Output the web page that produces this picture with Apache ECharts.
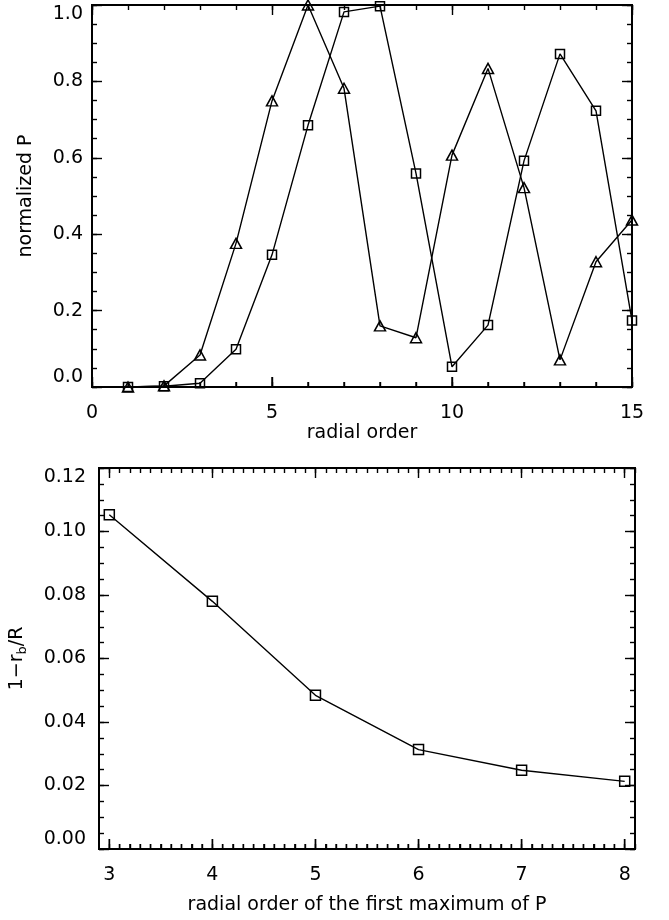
<!DOCTYPE html>
<html>
<head>
<meta charset="utf-8">
<script src="https://cdn.jsdelivr.net/npm/echarts@6/dist/echarts.min.js"></script>
<style>
html,body{margin:0;padding:0;background:#fff;}
#chart{width:669px;height:920px;}
</style>
</head>
<body>
<div id="chart"></div>
<script>
// ---- data ----
const radialOrder = [1, 2, 3, 4, 5, 6, 7, 8, 9, 10, 11, 12, 13, 14, 15];
const triangleP = [0.0, 0.003, 0.084, 0.376, 0.749, 1.0, 0.782, 0.16, 0.129, 0.607, 0.834, 0.522, 0.071, 0.328, 0.437];
const squareP = [0.0, 0.002, 0.01, 0.099, 0.346, 0.685, 0.982, 0.997, 0.559, 0.053, 0.162, 0.592, 0.872, 0.723, 0.174];

const firstMaxOrder = [3, 4, 5, 6, 7, 8];
const depth = [0.1053, 0.078, 0.0484, 0.0313, 0.0248, 0.0213];

const topXTicks = [0, 5, 10, 15];
const topYTicks = [0.0, 0.2, 0.4, 0.6, 0.8, 1.0];
const botXTicks = [3, 4, 5, 6, 7, 8];
const botYTicks = [0.00, 0.02, 0.04, 0.06, 0.08, 0.10, 0.12];

// minor tick positions
function steps(a, b, s) { const r = []; const n = Math.round((b - a) / s); for (let i = 0; i <= n; i++) r.push(+(a + i * s).toFixed(6)); return r; }
const topXMinor = steps(0, 15, 1);
const topYMinor = steps(0, 1, 0.05);
const botXMinor = steps(3, 8.1, 0.1);
const botYMinor = steps(0, 0.12, 0.005);

const FONT = 'DejaVu Sans';
const BLACK = '#000';

function makeAxes(type, grid, min, max, major, minor, opts) {
  const mainPos = type === 'x' ? 'bottom' : 'left';
  const otherPos = type === 'x' ? 'top' : 'right';
  const base = { type: 'value', gridIndex: grid, min: min, max: max, splitLine: { show: false } };
  const line = { show: true, onZero: false, lineStyle: { color: BLACK, width: 2 } };
  const axes = [];
  const label = { show: true, customValues: major, color: BLACK, fontFamily: FONT, fontSize: 19, margin: opts.margin, formatter: opts.fmt };
  if (type === 'y') { label.verticalAlignMinLabel = 'bottom'; label.verticalAlignMaxLabel = 'top'; }
  const tick = (vals, len) => ({ show: true, inside: true, length: len, customValues: vals, lineStyle: { color: BLACK, width: 1.4 } });
  axes.push(Object.assign({}, base, { position: mainPos, axisLine: line, axisTick: tick(minor, 5), axisLabel: { show: false } }));
  axes.push(Object.assign({}, base, { position: otherPos, axisLine: line, axisTick: tick(minor, 5), axisLabel: { show: false } }));
  axes.push(Object.assign({}, base, { position: otherPos, axisLine: line, axisTick: tick(major, 10), axisLabel: { show: false } }));
  const main = Object.assign({}, base, { position: mainPos, axisLine: line, axisTick: tick(major, 10), axisLabel: label });
  if (opts.name) {
    Object.assign(main, {
      name: opts.name, nameLocation: 'middle', nameGap: opts.nameGap, nameRotate: type === 'y' ? 90 : 0,
      nameTextStyle: Object.assign({ color: BLACK, fontFamily: FONT, fontSize: 19 }, opts.nameStyle || {})
    });
  }
  axes.push(main);
  return axes;
}

const xAxes = [].concat(
  makeAxes('x', 0, 0, 15, topXTicks, topXMinor, { margin: 17, fmt: v => String(v) }),
  makeAxes('x', 1, 2.9, 8.1, botXTicks, botXMinor, { margin: 17, fmt: v => String(v), name: 'radial order of the first maximum of P', nameGap: 47 })
);
const yAxes = [].concat(
  makeAxes('y', 0, 0, 1, topYTicks, topYMinor, { margin: 9, fmt: v => v.toFixed(1), name: 'normalized P', nameGap: 56 }),
  makeAxes('y', 1, 0, 0.12, botYTicks, botYMinor, {
    margin: 13, fmt: v => v.toFixed(2), name: '{n|1−r}{s|b}{n|/R}', nameGap: 70,
    nameStyle: { rich: { n: { fontFamily: FONT, fontSize: 19, color: BLACK }, s: { fontFamily: FONT, fontSize: 13, color: BLACK, verticalAlign: 'bottom', padding: [10, 0, 0, 0] } } }
  })
);

// tick marks along the lower frame, placed through the axis scales (value, tick length)
function isMajor(v, majors) { return majors.some(t => Math.abs(t - v) < 1e-6); }
function lowerTicks(vals, majors, xi, yi) {
  return {
    type: 'custom', xAxisIndex: xi, yAxisIndex: yi, silent: true, z: 3, clip: false,
    data: vals.map(v => [v, isMajor(v, majors) ? 10 : 5]),
    renderItem: function (params, api) {
      const p = api.coord([api.value(0), 0]);
      return { type: 'line', shape: { x1: p[0], y1: p[1], x2: p[0], y2: p[1] - api.value(1) },
        style: { stroke: BLACK, lineWidth: 1.4 } };
    }
  };
}

const markerStyle = { color: 'rgba(0,0,0,0)', borderColor: BLACK, borderWidth: 1.5 };

const option = {
  animation: false,
  backgroundColor: '#fff',
  title: [{ text: 'radial order', left: 362, top: 424, textAlign: 'center', padding: 0,
    textStyle: { color: BLACK, fontFamily: FONT, fontSize: 19, fontWeight: 'normal' } }],
  grid: [
    { left: 92, top: 5, width: 540, height: 382 },
    { left: 96, top: 468, width: 539, height: 381 }
  ],
  xAxis: xAxes,
  yAxis: yAxes,
  series: [
    lowerTicks(topXMinor, topXTicks, 3, 3),
    lowerTicks(botXMinor, botXTicks, 7, 7),
    { type: 'line', xAxisIndex: 3, yAxisIndex: 3, data: radialOrder.map((x, i) => [x, triangleP[i]]),
      symbol: 'triangle', symbolSize: [11, 10], showAllSymbol: true, lineStyle: { color: BLACK, width: 1.4 }, itemStyle: markerStyle, clip: true },
    { type: 'line', xAxisIndex: 3, yAxisIndex: 3, data: radialOrder.map((x, i) => [x, squareP[i]]),
      symbol: 'rect', symbolSize: 9, showAllSymbol: true, lineStyle: { color: BLACK, width: 1.4 }, itemStyle: markerStyle, clip: true },
    { type: 'line', xAxisIndex: 7, yAxisIndex: 7, data: firstMaxOrder.map((x, i) => [x, depth[i]]),
      symbol: 'rect', symbolSize: 10, showAllSymbol: true, lineStyle: { color: BLACK, width: 1.4 }, itemStyle: markerStyle, clip: true }
  ]
};

const chart = echarts.init(document.getElementById('chart'), null, { renderer: 'canvas' });
chart.setOption(option);
</script>
</body>
</html>
